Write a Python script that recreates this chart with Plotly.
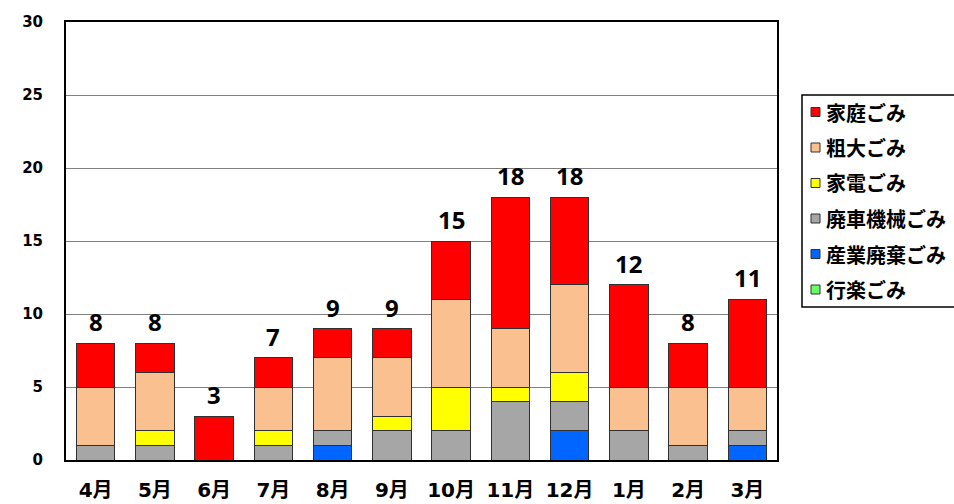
import plotly.graph_objects as go

months = ["4月", "5月", "6月", "7月", "8月", "9月", "10月", "11月", "12月", "1月", "2月", "3月"]
sangyo = [0, 0, 0, 0, 1, 0, 0, 0, 2, 0, 0, 1]      # 産業廃棄ごみ
haisha = [1, 1, 0, 1, 1, 2, 2, 4, 2, 2, 1, 1]      # 廃車機械ごみ
kaden = [0, 1, 0, 1, 0, 1, 3, 1, 2, 0, 0, 0]       # 家電ごみ
sodai = [4, 4, 0, 3, 5, 4, 6, 4, 6, 3, 4, 3]       # 粗大ごみ
katei = [3, 2, 3, 2, 2, 2, 4, 9, 6, 7, 3, 6]       # 家庭ごみ
kouraku = [0, 0, 0, 0, 0, 0, 0, 0, 0, 0, 0, 0]     # 行楽ごみ
y_ticks = [0, 5, 10, 15, 20, 25, 30]

totals = [a + b + c + d + e + f for a, b, c, d, e, f in zip(sangyo, haisha, kaden, sodai, katei, kouraku)]

CJK = "Noto Sans CJK JP"
NUM = "DejaVu Sans, Noto Sans CJK JP"

# stacking order (bottom -> top)
series = [
    ("産業廃棄ごみ", sangyo, "#0066FF"),
    ("廃車機械ごみ", haisha, "#A6A6A6"),
    ("家電ごみ", kaden, "#FFFF00"),
    ("粗大ごみ", sodai, "#FAC090"),
    ("家庭ごみ", katei, "#FF0000"),
    ("行楽ごみ", kouraku, "#66FF66"),
]
legend_order = ["家庭ごみ", "粗大ごみ", "家電ごみ", "廃車機械ごみ", "産業廃棄ごみ", "行楽ごみ"]
colors = {n: c for n, _, c in series}

fig = go.Figure()
for name, vals, color in series:
    fig.add_trace(go.Bar(
        x=months, y=vals, name=name, marker_color=color,
        marker_line=dict(color="#303030", width=1),
        showlegend=False,
    ))

# total labels
for m, t in zip(months, totals):
    fig.add_annotation(
        x=m, y=t, text=str(t), showarrow=False, yanchor="bottom", yshift=3,
        font=dict(family="Noto Sans", size=24, color="black", weight="bold"),
    )

# manual legend (pixel geometry converted to paper coords)
PX0, PX1, PY0, PY1 = 66, 777, 22, 460
def px(x):
    return (x - PX0) / (PX1 - PX0)
def py(y):
    return (PY1 - y) / (PY1 - PY0)

bx0, bx1, by_top, by_bot = px(802), px(1000), py(95), py(307)
fig.add_shape(type="path", xref="paper", yref="paper",
              path=f"M {bx1},{by_top} L {bx0},{by_top} L {bx0},{by_bot} L {bx1},{by_bot}",
              line=dict(color="black", width=1.5), layer="above")
for i, name in enumerate(legend_order):
    cy = 112 + i * 35.5
    fig.add_shape(type="rect", xref="paper", yref="paper",
                  x0=px(811), x1=px(820), y0=py(cy + 4.5), y1=py(cy - 4.5),
                  line=dict(color="#303030", width=1), fillcolor=colors[name], layer="above")
    fig.add_annotation(xref="paper", yref="paper", x=px(824), y=py(cy),
                       xanchor="left", yanchor="middle", text=name, showarrow=False,
                       font=dict(family=CJK, size=20, color="black", weight="bold"))

fig.update_layout(
    barmode="stack",
    bargap=0.353,
    width=954, height=504,
    margin=dict(l=66, r=177, t=22, b=44, autoexpand=False),
    plot_bgcolor="white", paper_bgcolor="white",
    font=dict(family=CJK, color="black"),
    showlegend=False,
)
fig.update_xaxes(
    showline=True, linecolor="black", linewidth=2, mirror=True,
    tickfont=dict(family=NUM, size=20, weight="bold"),
    ticklabelstandoff=11,
)
fig.update_yaxes(
    range=[0, 30], tickvals=y_ticks,
    showline=True, linecolor="black", linewidth=2, mirror=True,
    showgrid=True, gridcolor="#808080", gridwidth=1,
    tickfont=dict(family=NUM, size=15, weight="bold"),
    ticklabelstandoff=18, zeroline=False,
)

fig.write_html("out.html", config={"displayModeBar": False},
               post_script="document.body.style.margin='0';document.body.style.overflow='hidden';")
